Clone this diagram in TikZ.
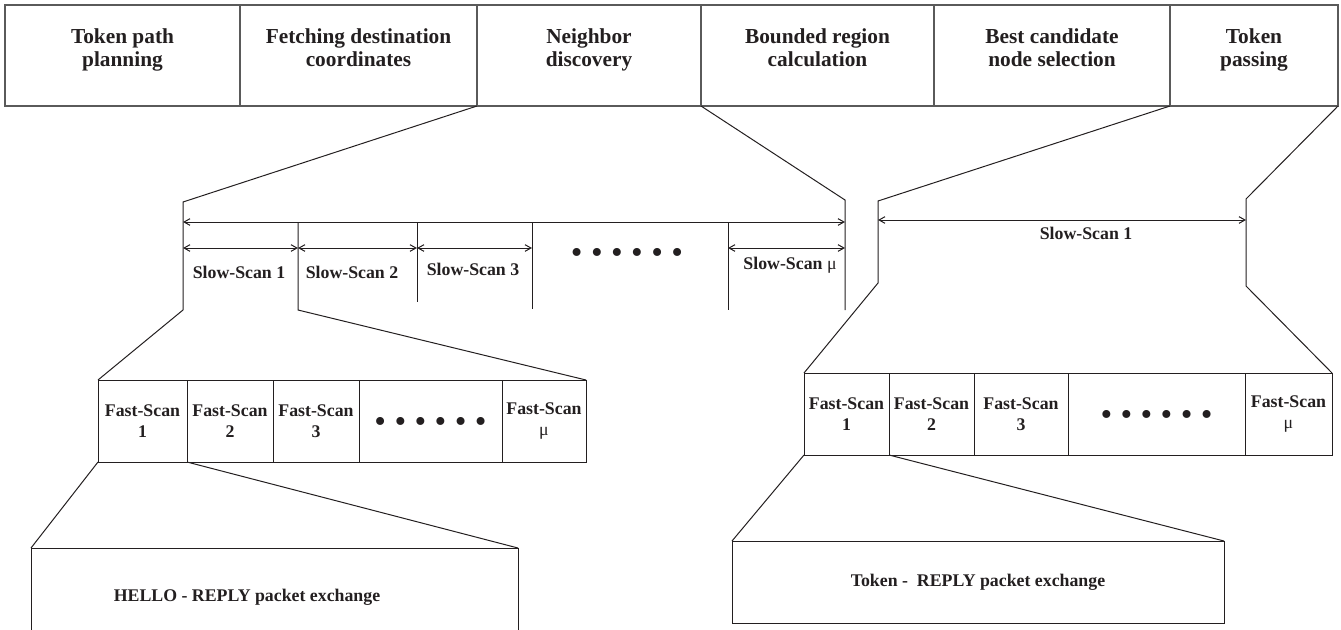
\documentclass[tikz,border=0pt]{standalone}
\usepackage{fontspec}
\setmainfont{Liberation Serif}
\usepackage{xcolor}
\usepackage{tikz}
\usetikzlibrary{
  positioning, arrows.meta, calc
}
\definecolor{barline}{HTML}{5A5A5A}
\definecolor{ink}{HTML}{231F20}
\newcommand{\sixdots}{%
  \textbullet\hspace{6.3pt}\textbullet\hspace{6.3pt}\textbullet\hspace{6.3pt}%
  \textbullet\hspace{6.3pt}\textbullet\hspace{6.3pt}\textbullet}

\begin{document}
\begin{tikzpicture}[
  x=0.75pt, y=-0.75pt,
  stage/.style={
    rectangle, draw=barline, line width=0.9pt, outer sep=0pt, inner sep=0pt,
    minimum width=#1, minimum height=75.75pt
  },
  stagetxt/.style={
    font=\fontsize{16}{17.25}\selectfont\bfseries, text=ink, align=center,
    inner sep=0pt, yshift=3.5pt
  },
  fastcell/.style={
    rectangle, draw=ink, line width=0.75pt, outer sep=0pt, inner sep=0pt,
    minimum width=#1, minimum height=61.5pt,
    font=\fontsize{13.35}{16}\selectfont\bfseries, text=ink, align=center
  },
  scanlbl/.style={font=\fontsize{13.35}{16}\selectfont\bfseries, text=ink, inner sep=0pt},
  dotrow/.style={font=\fontsize{25}{25}\selectfont, text=ink, inner sep=0pt},
  zoomln/.style={draw=ink, line width=0.75pt},
  spanarrow/.style={zoomln,
    {Straight Barb[length=4.5pt,width=5pt]}-{Straight Barb[length=4.5pt,width=5pt]}},
]
\useasboundingbox (0,0) rectangle (1341,629);

% Token forwarding phases
\node[stage=176.25pt, label={[stagetxt]center:\strut Token path\\planning\strut}] (plan) at (122.5,55.5) {};
\node[stage=177.75pt, right=0pt of plan,
  label={[stagetxt]center:\strut Fetching destination\\coordinates\strut}] (fetch) {};
\node[stage=168pt, right=0pt of fetch,
  label={[stagetxt]center:\strut Neighbor\\discovery\strut}] (neigh) {};
\node[stage=174.75pt, right=0pt of neigh,
  label={[stagetxt]center:\strut Bounded region\\calculation\strut}] (bound) {};
\node[stage=177pt, right=0pt of bound,
  label={[stagetxt]center:\strut Best candidate\\node selection\strut}] (best) {};
\node[stage=126pt, right=0pt of best,
  label={[stagetxt]center:\strut Token\\passing\strut}] (pass) {};

% Neighbor discovery: slow scans
\coordinate (k0) at (183,222);
\coordinate (k1) at (298,222);
\coordinate (k2) at (417,222);
\coordinate (k3) at (532,222);
\coordinate (k4) at (728,222);
\coordinate (k5) at (845,222);
\coordinate (lsTop0) at (183,202);
\coordinate (lsTop5) at (845,200);
\coordinate (lsBot0) at (183,310);
\coordinate (lsBot1) at (298,310);
\coordinate (lsBot5) at (845,310);

\draw[spanarrow] (k0) -- (k5);
\draw[spanarrow] ($(k0)+(0,26)$) -- ($(k1)+(0,26)$);
\draw[spanarrow] ($(k1)+(0,26)$) -- ($(k2)+(0,26)$);
\draw[spanarrow] ($(k2)+(0,26)$) -- ($(k3)+(0,26)$);
\draw[spanarrow] ($(k4)+(0,26)$) -- ($(k5)+(0,26)$);
\draw[zoomln] (k2) -- ($(k2)+(0,80)$);
\draw[zoomln] (k3) -- ($(k3)+(0,87)$);
\draw[zoomln] (k4) -- ($(k4)+(0,88)$);

\node[scanlbl] (ls1) at (239,272) {Slow-Scan 1};
\node[scanlbl] (ls2) at (352,272) {Slow-Scan 2};
\node[scanlbl] (ls3) at (473,269) {Slow-Scan 3};
\node[dotrow] (lsdots) at (627,256) {\sixdots};
\node[scanlbl] (lsmu) at (790,265) {Slow-Scan {\mdseries μ}};

% fast scans of slow-scan 1
\node[fastcell=66.75pt] (fl1) at (142.5,421) {Fast-Scan\\1};
\node[fastcell=64.5pt, right=0pt of fl1] (fl2) {Fast-Scan\\2};
\node[fastcell=64.5pt, right=0pt of fl2] (fl3) {Fast-Scan\\3};
\node[fastcell=107.25pt, right=0pt of fl3,
  label={[dotrow, yshift=-3pt]center:\sixdots}] (fl4) {};
\node[fastcell=63pt, right=0pt of fl4] (fl5) {Fast-Scan\\{\mdseries μ}};

\node[outer sep=0pt, minimum width=365.25pt, minimum height=64.5pt] (hello) at (274.5,591) {};
\node[scanlbl] (hellotxt) at (247,597) {HELLO - REPLY packet exchange};

\draw[zoomln] (neigh.south west) -- (lsTop0) -- (lsBot0) -- (fl1.north west);
\draw[zoomln] (neigh.south east) -- (lsTop5) -- (lsBot5);
\draw[zoomln] (k1) -- (lsBot1) -- (fl5.north east);
\draw[zoomln] (fl1.south west) -- (hello.north west);
\draw[zoomln] (fl1.south east) -- (hello.north east);
\draw[zoomln] (hello.south west) -- (hello.north west) -- (hello.north east) -- (hello.south east);

% Token passing: one slow scan
\coordinate (rsTop0) at (878,201);
\coordinate (rsTop1) at (1246,199);
\coordinate (rsBot0) at (878,283);
\coordinate (rsBot1) at (1246,286);

\draw[spanarrow] (rsTop0 |- 0,220) -- (rsTop1 |- 0,220);
\node[scanlbl] (rs1) at (1086,233) {Slow-Scan 1};

\node[fastcell=63.75pt] (fr1) at (846.5,414) {Fast-Scan\\1};
\node[fastcell=63.75pt, right=0pt of fr1] (fr2) {Fast-Scan\\2};
\node[fastcell=70.5pt, right=0pt of fr2] (fr3) {Fast-Scan\\3};
\node[fastcell=132.75pt, right=0pt of fr3,
  label={[dotrow, yshift=-3pt]center:\sixdots}] (fr4) {};
\node[fastcell=65.25pt, right=0pt of fr4] (fr5) {Fast-Scan\\{\mdseries μ}};

\node[fastcell=369pt, draw=ink] (token) at (978,582) {Token -\ \ REPLY packet exchange};

\draw[zoomln] (best.south east) -- (rsTop0) -- (rsBot0) -- (fr1.north west);
\draw[zoomln] (pass.south east) -- (rsTop1) -- (rsBot1) -- (fr5.north east);
\draw[zoomln] (fr1.south west) -- (token.north west);
\draw[zoomln] (fr1.south east) -- (token.north east);

\end{tikzpicture}
\end{document}
